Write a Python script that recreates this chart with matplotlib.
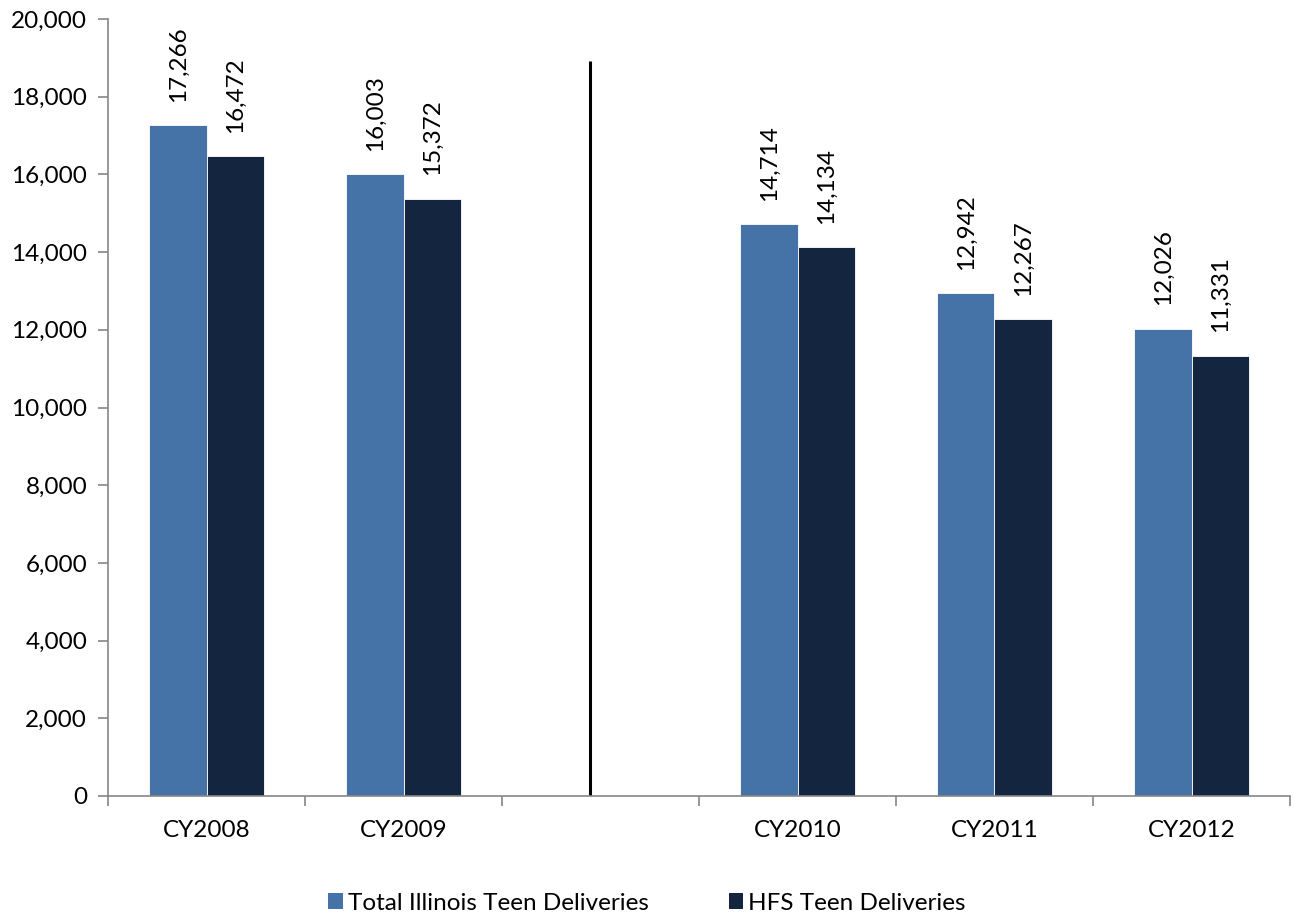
import numpy as np
import matplotlib.pyplot as plt
from matplotlib.patches import Patch

plt.rcParams['font.family'] = ['Lato', 'DejaVu Sans']

# 数据
categories = ["CY2008", "CY2009", "", "CY2010", "CY2011", "CY2012"]
total_illinois = [17266, 16003, None, 14714, 12942, 12026]
hfs_teen = [16472, 15372, None, 14134, 12267, 11331]
series_names = ["Total Illinois Teen Deliveries", "HFS Teen Deliveries"]
colors = ["#4573A7", "#14263F"]

FS = 17.5

fig = plt.figure(figsize=(12.94, 9.18), dpi=100)
ax = fig.add_axes([108 / 1294, 1 - 796 / 918, (1290 - 108) / 1294, (796 - 19) / 918])

x = np.arange(len(categories))
w = 0.29
for i, cat in enumerate(categories):
    if total_illinois[i] is None:
        continue
    for j, vals in enumerate([total_illinois, hfs_teen]):
        xpos = x[i] - w / 2 + j * w
        ax.bar(xpos, vals[i], width=w, color=colors[j], edgecolor="white", linewidth=0.6)
        ax.text(xpos, vals[i] + 600, f"{vals[i]:,}", rotation=90, ha="center", va="bottom",
                fontsize=FS)

# 分隔线
ax.plot([1.945, 1.945], [0, 18920], color="black", linewidth=2.2, solid_capstyle="butt")

ax.set_xlim(-0.5, len(categories) - 0.5)
ax.set_ylim(0, 20000)
ax.set_yticks(np.arange(0, 20001, 2000))
ax.set_yticklabels([f"{v:,}" for v in range(0, 20001, 2000)], fontsize=FS)
ax.set_xticks(np.arange(-0.5, len(categories), 1.0))
ax.set_xticklabels([])
ax.set_xticks(x, minor=True)
ax.set_xticklabels(categories, minor=True, fontsize=FS)
ax.tick_params(axis="x", which="minor", length=0, pad=17)
ax.tick_params(axis="x", which="major", length=7, color="#868686", width=1.2)
ax.tick_params(axis="y", length=7, color="#868686", width=1.2, pad=8)

for side in ["top", "right"]:
    ax.spines[side].set_visible(False)
for side in ["left", "bottom"]:
    ax.spines[side].set_color("#868686")
    ax.spines[side].set_linewidth(1.2)

handles = [Patch(facecolor=c) for c in colors]
fig.legend(handles, series_names, loc="center", bbox_to_anchor=(0.5, 1 - 903 / 918), ncol=2,
           frameon=False, fontsize=FS, handlelength=0.6, handleheight=0.6, handletextpad=0.2,
           columnspacing=3.3)

fig.savefig("out.png", dpi=100)
